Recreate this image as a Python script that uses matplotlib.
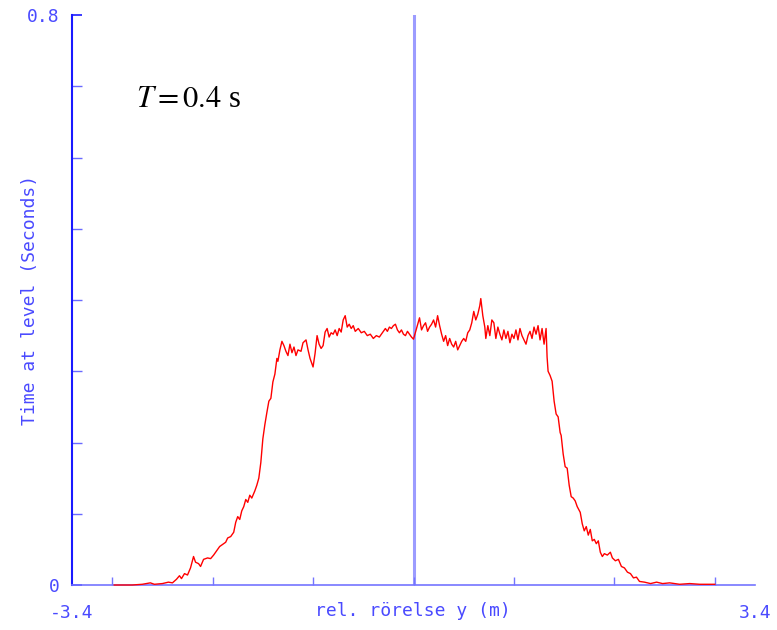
import matplotlib
matplotlib.use("Agg")
import matplotlib.pyplot as plt

# curve (x in m, y in seconds)
pos = [-2.98, -2.80, -2.70, -2.62, -2.58, -2.50, -2.44, -2.40, -2.36, -2.33, -2.31, -2.28,
       -2.25, -2.22, -2.19, -2.17, -2.14, -2.12, -2.09, -2.05, -2.02, -1.99, -1.96, -1.93,
       -1.90, -1.87, -1.85, -1.82, -1.79, -1.77, -1.75, -1.73, -1.71, -1.69, -1.67, -1.65,
       -1.63, -1.61, -1.58, -1.56, -1.54, -1.52, -1.50, -1.48, -1.46, -1.44, -1.42, -1.40,
       -1.38, -1.36, -1.35, -1.33, -1.31, -1.29, -1.27, -1.25, -1.23, -1.21, -1.19, -1.17,
       -1.15, -1.12, -1.10, -1.07, -1.05, -1.03, -1.00, -0.98, -0.96, -0.94, -0.92, -0.90,
       -0.88, -0.86, -0.84, -0.82, -0.80, -0.78, -0.76, -0.74, -0.72, -0.70, -0.68, -0.66,
       -0.64, -0.62, -0.60, -0.58, -0.55, -0.52, -0.49, -0.46, -0.43, -0.40, -0.37, -0.34,
       -0.31, -0.28, -0.26, -0.24, -0.22, -0.20, -0.18, -0.16, -0.14, -0.12, -0.10, -0.08,
       -0.06, -0.04, -0.02, 0.00, 0.02, 0.04, 0.06, 0.08, 0.10, 0.12, 0.14, 0.16,
       0.18, 0.20, 0.22, 0.24, 0.26, 0.28, 0.30, 0.32, 0.34, 0.36, 0.38, 0.40,
       0.42, 0.44, 0.46, 0.48, 0.50, 0.52, 0.54, 0.56, 0.58, 0.60, 0.62, 0.64,
       0.66, 0.67, 0.69, 0.71, 0.72, 0.74, 0.76, 0.78, 0.80, 0.82, 0.84, 0.86,
       0.88, 0.90, 0.92, 0.94, 0.96, 0.98, 1.00, 1.02, 1.04, 1.06, 1.08, 1.10,
       1.12, 1.14, 1.16, 1.18, 1.20, 1.22, 1.24, 1.26, 1.28, 1.30, 1.32, 1.33,
       1.34, 1.36, 1.38, 1.40, 1.42, 1.44, 1.46, 1.47, 1.49, 1.51, 1.53, 1.55,
       1.57, 1.59, 1.61, 1.63, 1.66, 1.68, 1.70, 1.72, 1.74, 1.76, 1.78, 1.80,
       1.82, 1.84, 1.86, 1.88, 1.90, 1.93, 1.96, 1.98, 2.01, 2.04, 2.07, 2.10,
       2.13, 2.16, 2.19, 2.22, 2.25, 2.30, 2.36, 2.42, 2.48, 2.55, 2.65, 2.75,
       2.85, 3.00]
time_at_level = [0.000, 0.000, 0.001, 0.003, 0.001, 0.002, 0.004, 0.003, 0.008, 0.013, 0.009, 0.016,
                 0.014, 0.024, 0.040, 0.032, 0.030, 0.026, 0.036, 0.038, 0.037, 0.042, 0.048, 0.054,
                 0.057, 0.060, 0.066, 0.068, 0.074, 0.088, 0.096, 0.092, 0.104, 0.110, 0.120, 0.116,
                 0.126, 0.122, 0.132, 0.140, 0.150, 0.172, 0.205, 0.225, 0.242, 0.258, 0.262, 0.285,
                 0.296, 0.318, 0.314, 0.330, 0.342, 0.336, 0.328, 0.322, 0.338, 0.326, 0.334, 0.322,
                 0.330, 0.328, 0.340, 0.344, 0.330, 0.318, 0.306, 0.325, 0.350, 0.338, 0.332, 0.336,
                 0.355, 0.360, 0.348, 0.354, 0.352, 0.358, 0.350, 0.360, 0.355, 0.372, 0.378, 0.362,
                 0.366, 0.360, 0.364, 0.356, 0.360, 0.354, 0.356, 0.350, 0.352, 0.346, 0.350, 0.348,
                 0.354, 0.360, 0.356, 0.362, 0.360, 0.364, 0.366, 0.358, 0.354, 0.358, 0.352, 0.350,
                 0.356, 0.352, 0.348, 0.345, 0.355, 0.365, 0.375, 0.358, 0.364, 0.368, 0.356, 0.362,
                 0.366, 0.372, 0.362, 0.378, 0.364, 0.352, 0.342, 0.350, 0.336, 0.346, 0.338, 0.334,
                 0.342, 0.330, 0.336, 0.342, 0.346, 0.342, 0.354, 0.358, 0.368, 0.384, 0.372, 0.380,
                 0.392, 0.402, 0.378, 0.362, 0.346, 0.364, 0.350, 0.372, 0.368, 0.346, 0.362, 0.352,
                 0.344, 0.358, 0.346, 0.356, 0.340, 0.352, 0.346, 0.358, 0.344, 0.360, 0.350, 0.344,
                 0.338, 0.350, 0.356, 0.346, 0.362, 0.352, 0.364, 0.344, 0.360, 0.338, 0.360, 0.320,
                 0.300, 0.294, 0.286, 0.258, 0.240, 0.236, 0.214, 0.210, 0.184, 0.166, 0.164, 0.140,
                 0.124, 0.122, 0.118, 0.110, 0.102, 0.086, 0.076, 0.082, 0.070, 0.078, 0.062, 0.064,
                 0.058, 0.062, 0.046, 0.040, 0.044, 0.042, 0.046, 0.038, 0.034, 0.036, 0.026, 0.024,
                 0.018, 0.016, 0.010, 0.011, 0.005, 0.004, 0.002, 0.004, 0.002, 0.003, 0.001, 0.002,
                 0.001, 0.001]

x_range = [-3.4, 3.4]
y_range = [0.0, 0.8]
x_minor = [-3, -2, -1, 0, 1, 2, 3]
y_minor = [0.1, 0.2, 0.3, 0.4, 0.5, 0.6, 0.7]

BLUE = "#1a1aff"
LIGHT = "#7474ff"
TXT = "#4a4aff"
MONO = "DejaVu Sans Mono"

plt.rcParams["mathtext.fontset"] = "stix"

fig = plt.figure(figsize=(7.77, 6.30), dpi=100)
ax = fig.add_axes([72 / 777, 45 / 630, 683 / 777, 570 / 630])

ax.axvline(0, color="#9c9cff", lw=2.2, zorder=1)
ax.plot(pos, time_at_level, color="#ff0000", lw=1.0, zorder=3, clip_on=False)

ax.set_xlim(*x_range)
ax.set_ylim(*y_range)

for s in ["top", "right"]:
    ax.spines[s].set_visible(False)
ax.spines["left"].set_color(BLUE)
ax.spines["left"].set_linewidth(1.5)
ax.spines["bottom"].set_color(LIGHT)
ax.spines["bottom"].set_linewidth(1.2)

# only the ends are labelled, the rest are bare ticks
ax.set_xticks(x_range, ["-3.4", "3.4"])
ax.set_xticks(x_minor, minor=True)
ax.set_yticks(y_range, ["0", "0.8"])
ax.set_yticks(y_minor, minor=True)
ax.tick_params(axis="x", which="major", length=0, pad=14, labelcolor=TXT, labelsize=13)
ax.tick_params(axis="x", which="minor", direction="in", length=6, width=1, color=LIGHT)
ax.tick_params(axis="y", which="major", direction="in", length=7, width=1.2, color=BLUE,
               pad=9, labelcolor=TXT, labelsize=13)
ax.tick_params(axis="y", which="minor", direction="in", length=7, width=1, color="#6a6aff")
for lab in ax.get_xticklabels() + ax.get_yticklabels():
    lab.set_family(MONO)

fig.text(413 / 777, 1 - 611 / 630, "rel. rörelse y (m)", ha="center", va="center",
         color=TXT, family=MONO, fontsize=13)
fig.text(30 / 777, 1 - 300 / 630, "Time at level (Seconds)", ha="center", va="center",
         rotation=90, color=TXT, family=MONO, fontsize=13)

ax.text(-2.76, 0.671, r"$T = 0.4$ s", family="Liberation Serif", fontsize=22,
        va="baseline", ha="left", color="black")

fig.savefig("out.png", dpi=100)
